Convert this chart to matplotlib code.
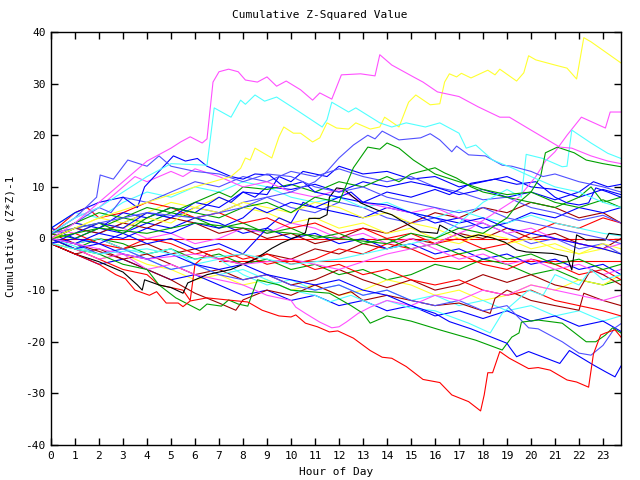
import matplotlib
matplotlib.use("Agg")
import matplotlib.pyplot as plt

RED = "#ff0000"
GREEN = "#00a000"
BLUE = "#0000ff"
MAGENTA = "#ff50ff"
CYAN = "#50ffff"
YELLOW = "#ffff30"
BLACK = "#000000"
DARKRED = "#a00000"
LBLUE = "#5050ff"

hour_ticks = list(range(0, 24))
value_ticks = [-40, -30, -20, -10, 0, 10, 20, 30, 40]

# (hour, cumulative value) pairs
magenta_top = [(0, 0), (1, 3), (2, 7), (3, 11), (4, 15), (5, 17.5), (5.4, 18.7), (5.8, 19.7), (6.3, 18.5),
               (6.5, 19.3), (6.75, 30.3), (7.0, 32.3), (7.4, 32.8), (7.8, 32.3), (8.1, 30.7), (8.6, 30.3),
               (9.0, 31.3), (9.4, 29.5), (9.8, 30.5), (10.4, 28.8), (10.9, 26.8), (11.2, 28.2), (11.7, 27),
               (12.1, 31.7), (12.9, 31.9), (13.5, 31.5), (13.7, 35.6), (14.2, 33.6), (15.1, 31.3), (15.5, 30.3),
               (16.1, 28.4), (17, 27.5), (17.8, 25.5), (18.7, 23.5), (19.1, 23.5), (20, 21), (21.2, 17.7),
               (21.7, 17.5), (22.5, 16), (23.2, 15), (23.75, 14.5)]
cyan_top = [(0, 1), (1, 4), (2, 6), (3, 9), (4, 12), (5, 14.5), (6.5, 14.2), (6.8, 25.3), (7.5, 23.5),
            (7.9, 26.8), (8.1, 26), (8.5, 27.8), (8.9, 26.6), (9.4, 27.4), (10.1, 25.3), (11.3, 21.6),
            (11.5, 23), (11.7, 26.4), (12.4, 24.5), (12.7, 25.3), (13.7, 22.4), (14.2, 21.6), (14.8, 22.4),
            (15.6, 21.6), (16.2, 22.4), (17, 20.4), (17.3, 17.5), (17.7, 18.1), (18.4, 15.2), (19.2, 13.7),
            (20, 12), (21, 10), (22, 9), (23, 7), (23.75, 6)]
yellow_top = [(0, 0), (2, 4), (4, 7), (6, 10), (7.5, 12), (7.9, 13.6), (8.1, 15.6), (8.3, 15.2), (8.5, 17.5),
              (9.2, 15.6), (9.5, 19.7), (9.7, 21.6), (10.1, 20.4), (10.4, 20.4), (10.9, 18.7), (11.2, 19.5),
              (11.5, 22.4), (11.9, 21.4), (12.4, 21.2), (12.7, 22.4), (13.3, 21.2), (13.7, 21.6), (13.9, 23.5),
              (14.5, 21.6), (14.9, 26.4), (15.2, 27.8), (15.8, 25.9), (16.2, 26.1), (16.4, 30.3), (16.6, 31.9),
              (16.9, 31.3), (17.1, 32), (17.5, 31.1), (18.2, 32.6), (18.5, 31.7), (18.7, 32.8), (19.4, 30.5),
              (19.7, 32.1), (19.9, 35.4), (20.2, 34.6), (21, 33.6), (21.5, 33), (21.9, 30.9), (22.2, 38.9),
              (22.5, 38.1), (23.75, 34)]
lblue_a = [(0, 1), (2, 3), (4, 5), (6, 4), (8, 6), (9, 8), (10, 9), (11, 11), (11.5, 13), (12, 15.6),
           (12.6, 18.1), (13.2, 20), (13.5, 19.3), (13.8, 20.8), (14.5, 19.1), (15.4, 19.5), (15.8, 20.3),
           (16.2, 19.1), (16.7, 16.8), (16.9, 17.9), (17.4, 16.2), (18.1, 16), (18.8, 14.2), (19.2, 14),
           (20, 13), (20.5, 12), (21, 12.5), (22, 11), (23, 10), (23.75, 9)]
green_a = [(0, 0), (1, 2), (2, 3), (3, 1), (4, 4), (5, 6), (6, 5), (7, 4), (8, 6), (9, 7), (10, 5), (11, 8),
           (12, 7), (12.6, 13.7), (13.2, 17.7), (13.7, 17.3), (14, 18.5), (14.5, 17.5), (15.1, 15.2),
           (15.6, 13.7), (16, 12.5), (17, 11), (18, 9.5), (19, 8.5), (20, 9), (21, 7), (22, 6), (23, 7.5),
           (23.75, 6)]
green_b = [(0, 0), (2, 2), (4, 1), (6, 3), (8, 2), (10, 1), (12, 0), (14, -1), (15, 1), (16, 0), (17, 2),
           (18, 1), (19, 4), (19.5, 7), (20, 9), (20.4, 12), (20.6, 16.6), (21.1, 17.7), (21.8, 16.6),
           (22.3, 15.2), (23, 14.5), (23.75, 13.9)]
cyan_b = [(0, -1), (2, -3), (4, -2), (6, -4), (8, -3), (10, -5), (12, -4), (14, -2), (16, 0), (17, 3),
          (18, 7), (19, 9.5), (19.6, 8), (19.8, 16.3), (20.5, 15.5), (21.3, 13.9), (21.5, 14), (21.7, 21),
          (22.5, 18.5), (23.2, 16.5), (23.75, 15.5)]
magenta_b = [(0, 0), (2, -2), (4, -4), (6, -3), (8, -5), (10, -4), (12, -6), (14, -3), (16, -1), (17.5, 2),
             (18.5, 5), (19.5, 8), (20.2, 12), (20.6, 15), (21, 16.8), (21.5, 20), (22.1, 23.5), (23.1, 21.4),
             (23.3, 24.5), (23.75, 24.5)]
lblue_b = [(0, 1), (1, 4), (1.9, 8), (2.05, 12.3), (2.6, 11.5), (3.2, 15.2), (4, 14), (4.5, 16), (5, 14),
           (6, 13), (7, 12.5), (8, 11), (9, 12.5), (10, 12), (11, 10), (12, 9), (13, 10), (14, 8), (15, 7),
           (16, 6), (17, 5), (18, 6), (19, 4), (20, 3), (21, 2), (22, 1), (23, 0), (23.75, -1)]
blue_a = [(0, 2), (1, 5), (2, 7), (3, 8), (3.6, 6), (3.9, 10), (4.5, 13), (5.1, 16), (5.6, 15), (6.1, 15.5),
          (6.5, 14), (7, 13), (7.5, 12), (8, 11.5), (8.5, 12.5), (9.1, 12.3), (9.7, 10), (10.5, 11), (11, 9),
          (12, 8), (12.5, 9), (13, 7), (14, 6.5), (15, 5), (16, 4), (17, 3), (18, 4), (19, 2), (20, 1),
          (21, 0), (22, -1), (23, -2), (23.75, -3)]
blue_b = [(0, 0), (1, -1), (2, 1), (3, 0), (4, 2), (5, 1), (6, 3), (7, 2), (8, 4), (8.5, 6), (9, 5), (10, 7),
          (11, 6), (12, 8), (13, 7), (14, 9), (15, 8), (16, 9.5), (16.6, 8.5), (17.5, 10.7), (18.5, 11.5),
          (19.4, 10.5), (20.2, 11), (21, 8), (21.5, 6.9), (22, 6.5), (22.4, 6.9), (22.7, 9.8), (23.2, 9),
          (23.75, 8)]
blue_c = [(0, 1), (1, 3), (2, 2), (3, 5), (4, 4), (5, 6), (6, 5), (7, 8), (7.5, 7), (8, 9), (9, 8.5),
          (9.5, 12), (10, 11), (10.5, 13), (11.5, 12), (12, 14), (13, 12.5), (14, 13), (15, 11.5), (16, 12),
          (17, 10), (18, 11), (19, 12), (20, 10), (21, 9.5), (22, 8), (23, 9.5), (23.75, 8.5)]
blue_g = [(0, -1), (1, 1), (2, 3), (3, 2), (4, 5), (5, 4), (6, 7), (7, 6), (8, 9), (8.5, 8), (9, 10),
          (10, 9.5), (11, 10.5), (12, 9), (13, 11), (14, 10), (15, 11), (16, 10), (17, 8.5), (18, 9.5),
          (19, 8), (20, 9), (21, 7.5), (22, 9), (22.6, 11), (23.2, 10), (23.75, 10.5)]
cyan_c = [(0, 2), (1, 5), (2, 4), (3, 7), (4, 9), (5, 8), (6, 10), (7, 9), (8, 11), (9, 10), (10, 8), (11, 7),
          (12, 8), (13, 6), (14, 7), (15, 5), (16, 4), (17, 5.5), (18, 4), (19, 3), (20, 4.5), (21, 3),
          (22, 2), (23, 1), (23.75, 0.5)]
magenta_c = [(0, 1), (1, 4), (2, 6), (3, 10), (3.5, 12), (4, 11), (5, 13), (5.5, 12), (6, 13.5), (7, 12),
             (8, 10), (9, 11), (10, 9), (11, 8), (12, 9.5), (13, 7), (14, 6), (15, 5), (16, 6), (17, 4),
             (18, 3), (19, 1), (20, 2), (21, 0), (22, -1), (23, -2), (23.75, -1)]
yellow_b = [(0, 0), (1, 1), (2, 3), (3, 2), (4, 4), (5, 3), (6, 6), (7, 5), (8, 7), (9, 6), (10, 5), (11, 7),
            (12, 6), (13, 4), (14, 5), (15, 3), (16, 2), (17, 0), (18, 1), (19, -1), (20, 0), (21, -2),
            (22, -3), (23, -2), (23.75, -3)]
yellow_c = [(0, -1), (1, -2), (2, -4), (3, -3), (4, -5), (5, -6), (6, -8), (7, -7), (8, -9), (9, -8),
            (10, -10), (11, -9), (12, -11), (13, -10), (14, -8), (15, -9), (16, -11), (17, -10), (18, -12),
            (19, -11), (20, -9), (21, -10), (22, -8), (23, -9), (23.75, -7)]
yellow_d = [(0, 1), (1, 2), (2, 4), (3, 3), (4, 5), (5, 7), (6, 6), (7, 8), (8, 6), (9, 5), (10, 3), (11, 4),
            (12, 2), (13, 3), (14, 1), (15, 2), (16, 0), (17, -1), (18, 1), (19, 0), (20, -2), (21, -1),
            (22, -3), (23, -1), (23.75, -2)]
green_c = [(0, 1), (1, 0), (2, 2), (3, 4), (4, 3), (5, 5), (6, 4), (7, 2), (8, 3), (9, 1), (10, 2), (11, 0),
           (12, 1), (13, -1), (14, 0), (15, -2), (16, -1), (17, -3), (18, -2), (19, -4), (20, -3), (21, -5),
           (22, -4), (23, -6), (23.75, -5)]
green_d = [(0, 0), (1, -2), (2, -3), (3, -5), (4, -6), (4.5, -9), (5.2, -11.5), (6.2, -13.9), (6.5, -12.7),
           (7.1, -13.1), (7.4, -11.9), (7.8, -12.7), (8.2, -13.1), (8.6, -8), (9.5, -9), (10, -10),
           (11.6, -10.6), (12.5, -13), (13, -14.5), (13.3, -16.4), (14, -15), (15, -16), (16.2, -17.7),
           (17.7, -19.7), (18.8, -21.6), (19.2, -19.1), (19.5, -18.3), (19.6, -16.2), (20.3, -15.8),
           (21.3, -16.4), (22.3, -20), (22.7, -20), (23.1, -18.7), (23.4, -17.3), (23.75, -18.3)]
green_e = [(0, 1), (1, 3), (2, 5), (3, 4), (4, 6), (5, 5), (6, 7), (7, 9), (7.5, 8), (8, 10), (9, 9.5),
           (10, 10.5), (11, 9), (12, 11), (13, 10), (14, 12), (14.5, 11), (15, 12.5), (16, 13.7), (16.4, 12.7),
           (16.9, 11.7), (17.5, 10), (18, 9), (19, 8), (20, 7), (21, 6), (22, 8), (22.5, 10), (23, 7),
           (23.75, 8)]
green_f = [(0, -1), (1, -2), (2, 0), (3, -1), (4, -3), (5, -2), (6, -4), (7, -3), (8, -5), (9, -4), (10, -6),
           (11, -5), (12, -7), (13, -6), (14, -8), (15, -7), (16, -5), (17, -6), (18, -4), (19, -5), (20, -7),
           (21, -6), (22, -8), (23, -9), (23.75, -8)]
magenta_d = [(0, 0), (1, -2), (2, -4), (3, -3), (4, -6), (5, -5), (6, -7), (7, -8), (8, -9), (9, -11),
             (10, -12), (10.2, -13.3), (10.6, -14.5), (11.2, -16.2), (11.7, -17.3), (12, -17.1), (12.3, -16.2),
             (12.8, -14.5), (13.3, -13.3), (14, -12), (15, -13), (16, -11), (17, -12), (18, -10), (19, -11),
             (20, -9), (21, -10), (22, -11), (23, -12), (23.75, -11)]
magenta_e = [(0, 2), (1, 1), (2, 3), (3, 2), (4, 0), (5, 1), (6, -1), (7, 0), (8, 2), (9, 1), (10, 3),
             (11, 2), (12, 0), (13, 1), (14, -1), (15, 0), (16, -2), (17, -4), (18, -3), (19, -5), (20, -4),
             (21, -6), (22, -5), (23, -7), (23.75, -6)]
lblue_c = [(0, 0), (1, -1), (2, -3), (3, -2), (4, -4), (5, -6), (6, -5), (7, -7), (8, -8), (9, -7), (10, -9),
           (11, -10), (12, -9), (13, -11), (14, -10), (15, -12), (16, -13), (17, -12), (18, -14), (19, -13),
           (19.9, -17.3), (20.3, -17.5), (21.3, -20), (22, -22.2), (22.5, -22.6), (23, -20.7), (23.5, -17.3),
           (23.75, -16.5)]
lblue_d = [(0, 0), (1, 2), (2, 1), (3, 3), (4, 5), (5, 4), (6, 6), (7, 5), (8, 7), (9, 8), (10, 6), (11, 5),
           (12, 7), (13, 6), (14, 4), (15, 3), (16, 4), (17, 2), (18, 3), (19, 1), (20, -1), (21, 0), (22, -2),
           (23, -1), (23.75, -3)]
lblue_e = [(0, 1), (1, 3), (2, 6), (2.5, 5), (3, 8), (4, 7), (5, 9), (6, 11), (7, 10), (8, 12), (9, 11),
           (10, 13), (11, 12), (12, 13.5), (13, 12), (14, 11), (15, 12), (16, 10), (17, 9), (18, 7.5),
           (19, 8), (20, 6), (21, 5), (22, 3.5), (23, 4.5), (23.75, 3)]
blue_d = [(0, 0), (1, -2), (2, -1), (3, -3), (4, -4), (5, -3), (6, -5), (7, -6), (8, -5), (9, -7), (10, -8),
          (11, -9), (12, -8), (13, -10), (14, -11), (15, -13), (16, -14.5), (16.6, -16.1), (17.5, -17.5),
          (18.3, -19), (19, -20.3), (19.1, -21), (19.4, -22.9), (19.9, -21.9), (21.2, -24.2), (21.6, -21.7),
          (22.6, -24.5), (23.1, -25.8), (23.5, -26.8), (23.75, -24.7)]
blue_e = [(0, -1), (1, 0), (2, 2), (3, 1), (4, 3), (5, 2), (6, 4), (7, 3), (8, 1), (9, 2), (10, 0), (11, 1),
          (12, -1), (13, 0), (14, -2), (15, -1), (16, -3), (17, -2), (18, -4), (19, -3), (20, -5), (21, -4),
          (22, -6), (23, -5), (23.75, -7)]
blue_f = [(0, 2), (1, 0), (2, -1), (3, 1), (4, -1), (5, 0), (6, -2), (7, -1), (8, -3), (9, 2), (9.5, 4),
          (10, 3), (10.5, 7), (11, 6), (12, 5), (13, 4), (14, 6), (15, 5), (16, 3), (17, 4), (18, 2), (19, 3),
          (20, 5), (21, 4), (22, 6), (23, 5), (23.75, 6)]
blue_h = [(0, -1), (1, -3), (2, -5), (3, -4), (4, -6), (5, -8), (6, -7), (7, -9), (8, -11), (9, -10),
          (10, -12), (11, -11), (12, -13), (13, -12), (14, -14), (15, -13), (16, -15), (17, -14), (18, -15.5),
          (19, -14), (20, -16), (21, -15), (22, -17), (23, -16), (23.75, -18)]
cyan_d = [(0, 0), (1, -1.5), (2, -3), (3, -2), (4, -4), (5, -6), (6, -5), (7, -7), (8, -6), (9, -8),
          (10, -10), (11, -11), (11.6, -12.3), (12.5, -11), (13.5, -13), (14, -12), (15, -13.5), (16, -14),
          (17.4, -16.4), (18.3, -18.3), (18.8, -14.5), (19.9, -10), (20.5, -11), (21, -7), (22, -9),
          (22.5, -6), (23, -8), (23.75, -7)]
cyan_e = [(0, 0), (1, -1), (2, 0), (3, -2), (4, -3), (5, -2), (6, -5), (7, -4), (8, -7), (9, -9), (10, -8),
          (11, -10), (12, -9), (13, -11), (14, -10), (15, -12), (16, -11), (17, -13), (18, -12), (19, -14),
          (20, -13), (21, -15), (22, -14), (23, -16), (23.75, -15)]
red_low = [(0, -1), (1, -3), (2, -5), (2.7, -7), (3.1, -7.8), (3.5, -10), (4.1, -11), (4.4, -10.3),
           (4.8, -12.5), (5.3, -12.5), (5.5, -13.2), (5.8, -12.1), (6.5, -11.5), (8.2, -12.3), (8.8, -13.9),
           (9.5, -15), (10, -15.2), (10.2, -14.8), (10.6, -16.4), (11.1, -17.1), (11.6, -18.1), (11.95, -17.9),
           (12.6, -19.3), (13.3, -21.7), (13.8, -23), (14.2, -23.2), (14.8, -24.8), (15.5, -27.3),
           (16.2, -27.9), (16.7, -30.3), (17.4, -31.6), (17.9, -33.4), (18.05, -30.3), (18.2, -26),
           (18.4, -26), (18.7, -21.9), (19.1, -23.2), (19.9, -25.2), (20.3, -25), (20.8, -25.5),
           (21.5, -27.4), (21.9, -27.8), (22.4, -28.8), (22.6, -22.4), (22.9, -18.7), (23.1, -18.3),
           (23.5, -17.7), (23.75, -19.1)]
red_b = [(0, 0), (1, -2), (2, -4), (3, -6), (4, -7), (4.5, -9), (5.5, -10), (5.8, -12), (6, -5), (6.5, -3),
         (7, -4), (8, -3), (9, -5), (10, -4), (11, -6), (12, -5), (13, -7), (14, -6), (15, -8), (16, -9),
         (17, -8), (18, -10), (19, -11), (20, -10), (21, -12), (22, -13), (23, -14), (23.75, -15)]
red_c = [(0, 1), (0.5, 3), (1, 5), (1.5, 6), (2, 4), (3, 5), (4, 7), (5, 6), (6, 4), (7, 5), (8, 3), (9, 4),
         (10, 2), (11, 3), (12, 1), (13, 2), (14, 0), (15, 1), (16, -1), (17, 0), (18, -2), (19, -1), (20, 1),
         (21, 3), (22, 2), (23, 4), (23.75, 3)]
red_d = [(0, 0), (1, 1), (2, -1), (3, -2), (4, 0), (5, -1), (6, -3), (7, -2), (8, -4), (9, -3), (10, -5),
         (11, -4), (12, -2), (13, -3), (14, -1), (15, -2), (16, -4), (17, -3), (18, -5), (19, -6), (20, -4),
         (21, -5), (22, -7), (23, -6), (23.75, -8)]
darkred_a = [(0, -1), (1, -3), (2, -2), (3, -4), (4, -6), (5, -8), (6, -10.6), (7, -12.5), (7.7, -13.9),
             (8, -11.9), (9, -10), (10, -11), (11, -9), (12, -11), (12.5, -10.3), (13, -12), (14, -11),
             (15, -12), (16, -13), (17, -12.5), (18.3, -14.5), (18.5, -11.6), (19, -10), (20, -12), (21, -13),
             (22, -13.9), (22.2, -10.6), (23, -12), (23.75, -13)]
darkred_b = [(0, 0), (1, 2), (2, 1), (3, 3), (4, 2), (5, 4), (6, 3), (7, 1), (8, 2), (9, 0), (10, 1),
             (11, -1), (12, 0), (13, 2), (14, 1), (15, 3), (16, 5), (17, 4), (18, 6), (19, 5), (20, 7), (21, 6),
             (22, 4), (23, 5), (23.75, 3)]
darkred_c = [(0, 1), (1, -1), (2, 0), (3, -2), (4, -1), (5, -3), (6, -2), (7, -4), (8, -5), (9, -3),
             (10, -4), (11, -2), (12, -3), (13, -1), (14, -2), (15, 0), (16, -1), (17, 1), (18, 0), (19, 2),
             (20, 0), (21, 1), (22, -1), (23, -2), (23.75, 0)]
darkred_d = [(0, 0), (1, -1), (2, -2.5), (3, -4), (4, -3), (5, -5), (6, -7), (7, -6), (8, -8), (9, -7),
             (10, -9), (11, -8), (12, -6), (13, -8), (14, -9.5), (15, -8), (16, -10), (17, -9), (18, -7),
             (19, -8.5), (20, -7), (21, -9), (22, -10), (22.5, -6), (23, -7), (23.75, -9)]
black_a = [(0, -1), (1, -3), (2, -4.5), (3, -6.5), (3.6, -9), (3.8, -10), (3.9, -8), (4.5, -9), (5, -9.5),
           (5.5, -10.6), (5.7, -8.6), (6.5, -7), (7.5, -6), (8.5, -4), (9.2, -1.9), (9.6, -0.9), (10.6, 1.1),
           (10.75, 3.9), (11.2, 3.9), (11.5, 4.6), (11.6, 8), (11.9, 9.8), (12.2, 9.6), (12.6, 8), (12.9, 6.9),
           (13.6, 5.5), (14.2, 4.6), (14.9, 2.6), (15.4, 1.3), (16.1, 1), (16.2, 2.6), (16.7, 1.3),
           (17.3, 0.1), (17.8, 0.7), (18.4, 0.1), (18.9, -0.7), (19.4, -2.2), (19.8, -2.6), (20.9, -2.9),
           (21.5, -3.5), (21.7, -6.1), (21.9, 0.7), (22.3, -0.3), (23.1, -0.3), (23.25, 1), (23.75, 0.7)]
flat_zero = [(0, 0), (23.75, 0)]
flat_low = [(7, -4.3), (23.75, -4.3)]

series = [
    (flat_zero, RED), (flat_low, RED),
    (darkred_c, DARKRED), (green_f, GREEN), (yellow_c, YELLOW), (cyan_e, CYAN), (red_d, RED),
    (blue_e, BLUE), (magenta_e, MAGENTA), (lblue_d, LBLUE), (darkred_b, DARKRED), (yellow_d, YELLOW),
    (green_c, GREEN), (blue_f, BLUE), (red_c, RED), (cyan_c, CYAN), (yellow_b, YELLOW), (blue_c, BLUE),
    (darkred_d, DARKRED), (blue_h, BLUE), (lblue_e, LBLUE), (blue_g, BLUE),
    (green_e, GREEN), (magenta_c, MAGENTA), (blue_b, BLUE), (darkred_a, DARKRED), (red_b, RED),
    (cyan_d, CYAN), (lblue_c, LBLUE), (magenta_d, MAGENTA), (green_d, GREEN), (blue_d, BLUE),
    (black_a, BLACK), (red_low, RED), (blue_a, BLUE), (lblue_b, LBLUE), (magenta_b, MAGENTA),
    (cyan_b, CYAN), (green_b, GREEN), (green_a, GREEN), (lblue_a, LBLUE), (yellow_top, YELLOW),
    (cyan_top, CYAN), (magenta_top, MAGENTA),
]

font = "DejaVu Sans Mono"
fig = plt.figure(figsize=(6.4, 4.8), dpi=100)
ax = fig.add_axes([51 / 640, 35 / 480, 570 / 640, 413 / 480])

for pts, col in series:
    xs = [p[0] for p in pts]
    ys = [p[1] for p in pts]
    ax.plot(xs, ys, color=col, lw=0.8)

ax.set_xlim(0, 23.75)
ax.set_ylim(-40, 40)
ax.set_xticks(hour_ticks)
ax.set_xticklabels([str(h) for h in hour_ticks], fontfamily=font, fontsize=8)
ax.set_yticks(value_ticks)
ax.set_yticklabels([str(v) for v in value_ticks], fontfamily=font, fontsize=8)
ax.tick_params(direction="in", length=5, width=1, top=True, right=True, pad=4)
for s in ax.spines.values():
    s.set_linewidth(1)

fig.text(0.5, 1 - 15 / 480, "Cumulative Z-Squared Value", ha="center", va="center",
         fontfamily=font, fontsize=8)
fig.text(336 / 640, 1 - 472 / 480, "Hour of Day", ha="center", va="center", fontfamily=font, fontsize=8)
fig.text(11 / 640, 0.5 + 4 / 480, "Cumulative (Z*Z)-1", ha="center", va="center", rotation=90,
         fontfamily=font, fontsize=8)

fig.savefig("out.png", dpi=100)
